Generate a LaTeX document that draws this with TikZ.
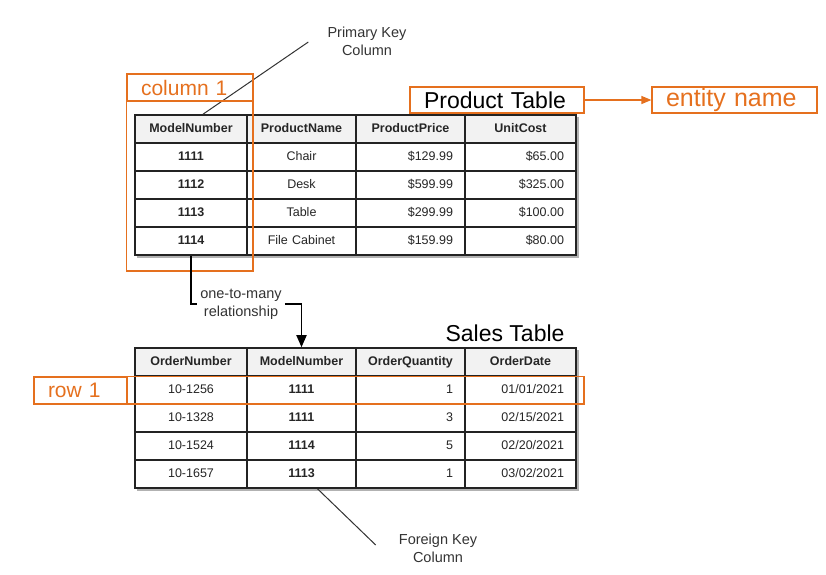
\documentclass[tikz,border=0pt]{standalone}
\usepackage{fontspec}
\setmainfont{Liberation Sans}
\usetikzlibrary{positioning, arrows.meta, calc, backgrounds}
\definecolor{markorange}{RGB}{229,112,30}
\definecolor{headgray}{RGB}{242,242,242}
\definecolor{gridline}{RGB}{35,35,35}

\begin{document}
\begin{tikzpicture}[
    x=1pt, y=-1pt,
    cell/.style={rectangle, draw=gridline, line width=1.6pt, fill=white, minimum height=28pt,
        inner xsep=12pt, inner ysep=0pt, text height=9pt, text depth=2.5pt, text=black!85,
        font=\fontsize{12.5}{14}\selectfont},
    head/.style={cell, fill=headgray, font=\fontsize{12.5}{14}\selectfont\bfseries},
    key/.style={font=\fontsize{12.5}{14}\selectfont\bfseries},
    ca/.style={text width=88pt, align=center},
    cb/.style={text width=85pt, align=center},
    cc/.style={text width=85pt, align=right},
    cd/.style={text width=87pt, align=right},
    markbox/.style={rectangle, draw=markorange, line width=1.2pt, inner xsep=14pt, inner ysep=0pt,
        align=left, text=markorange, font=\fontsize{21}{24}\selectfont},
    markline/.style={draw=markorange, line width=1.2pt},
    markarrow/.style={-{Triangle[length=10pt, width=8pt]}, draw=markorange, fill=markorange, line width=1.2pt},
    title/.style={font=\fontsize{23}{26}\selectfont},
    note/.style={align=center, text=black!80, inner sep=3pt, font=\fontsize{14.5}{18}\selectfont},
    pointer/.style={line width=1pt, draw=black!80},
    link/.style={line width=1.8pt, draw=black},
]
\useasboundingbox (0,0) rectangle (826,574);

%% PRODUCT TABLE
    \node[head, ca] (p-0-1) at (191,129)   {ModelNumber};
    \node[head, cb] (p-0-2) at (301.5,129) {ProductName};
    \node[head, cc, align=center] (p-0-3) at (410.5,129) {ProductPrice};
    \node[head, cd, align=center] (p-0-4) at (520.5,129) {UnitCost};

    \foreach \r/\y/\mn/\pn/\pp/\uc in {1/157/1111/Chair/\$129.99/\$65.00,
                                     2/185/1112/Desk/\$599.99/\$325.00,
                                     3/213/1113/Table/\$299.99/\$100.00,
                                     4/241/1114/File Cabinet/\$159.99/\$80.00}{
        \node[cell, ca, key] (p-\r-1) at (191,\y)   {\mn};
        \node[cell, cb]      (p-\r-2) at (301.5,\y) {\pn};
        \node[cell, cc]      (p-\r-3) at (410.5,\y) {\pp};
        \node[cell, cd]      (p-\r-4) at (520.5,\y) {\uc};
    }

    \begin{scope}[on background layer]
        \fill[black!30] ($(p-0-1.north west)+(2.5,2.5)$) rectangle ($(p-4-4.south east)+(2.5,2.5)$);
    \end{scope}

%% SALES TABLE
    \node[head, ca] (s-0-1) at (191,362)   {OrderNumber};
    \node[head, cb] (s-0-2) at (301.5,362) {ModelNumber};
    \node[head, cc, align=center] (s-0-3) at (410.5,362) {OrderQuantity};
    \node[head, cd, align=center] (s-0-4) at (520.5,362) {OrderDate};

    \foreach \r/\y/\on/\mn/\oq/\od in {1/390/10-1256/1111/1/01\slash 01\slash 2021,
                                     2/418/10-1328/1111/3/02\slash 15\slash 2021,
                                     3/446/10-1524/1114/5/02\slash 20\slash 2021,
                                     4/474/10-1657/1113/1/03\slash 02\slash 2021}{
        \node[cell, ca]      (s-\r-1) at (191,\y)   {\on};
        \node[cell, cb, key] (s-\r-2) at (301.5,\y) {\mn};
        \node[cell, cc]      (s-\r-3) at (410.5,\y) {\oq};
        \node[cell, cd]      (s-\r-4) at (520.5,\y) {\od};
    }

    \begin{scope}[on background layer]
        \fill[black!30] ($(s-0-1.north west)+(2.5,2.5)$) rectangle ($(s-4-4.south east)+(2.5,2.5)$);
    \end{scope}

%% LABELS
    % primary key
    \node[note] (pk) at (367,41) {Primary Key\\Column};
    \draw[pointer] ($(p-0-1.north)+(12,0)$) -- ($(pk.west)+(-16,1)$);

    % column 1
    \node[markbox, text width=98pt, minimum height=27pt] (col1) at (190,87.5) {column 1};
    \draw[markline] (col1.south west) rectangle (253,271);

    % entity name
    \node[markbox, text=black, title, text width=146pt, minimum height=26pt] (ptitle) at (497,100) {Product Table};
    \node[markbox, text width=137pt, minimum height=26pt, font=\fontsize{25}{28}\selectfont] (ename) at (734.5,100) {entity name};
    \draw[markarrow] (ptitle) -- (ename);

    % relationship
    \node[note] (rel) at (241,304) {one-to-many\\relationship};
    \draw[link] (p-4-1.south) |- (rel.west);
    \draw[link, -{Triangle[length=12pt, width=10pt]}] (rel.east) -| (s-0-2.north);

    \node[title, anchor=east] (stitle) at (568,333) {Sales Table};

    % row 1
    \node[markbox, text width=65pt, minimum height=27pt] (row1) at (80.5,390.5) {row 1};
    \draw[markline] (row1.north east) rectangle (584,404);

    % foreign key
    \node[note] (fk) at (438,548) {Foreign Key\\Column};
    \draw[pointer] ($(s-4-2.south)+(16,0)$) -- ($(fk.west)+(-20,-3)$);

\end{tikzpicture}
\end{document}
